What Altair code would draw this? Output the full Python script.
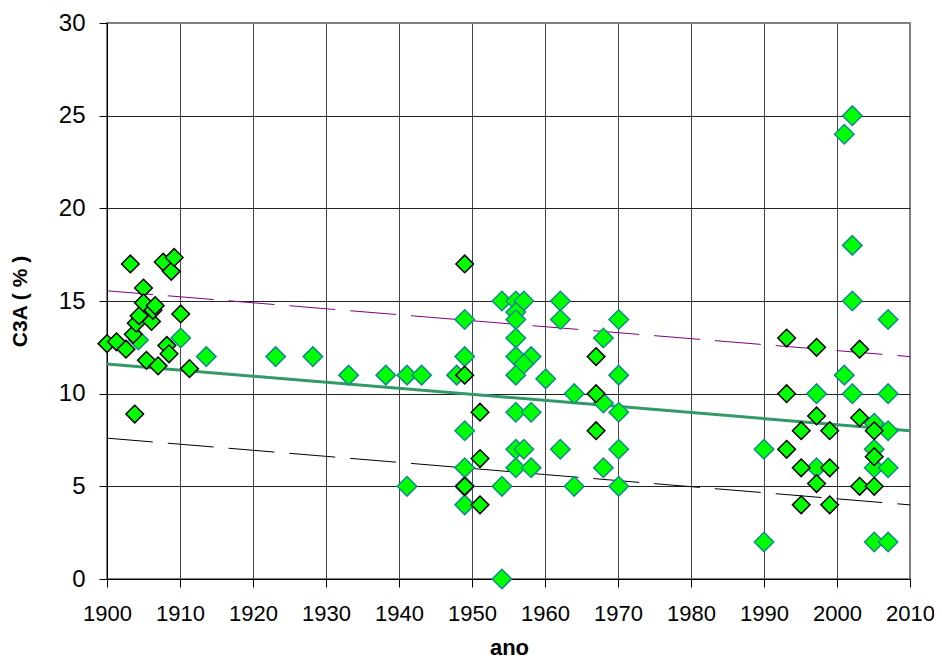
import altair as alt
import pandas as pd

# Series 1: green diamonds with teal outline
teal_year = [1904.3, 1910.1, 1913.6, 1923.1, 1928.2, 1933.1, 1938.2, 1941.1, 1941.1, 1943.1,
             1947.9, 1949.0, 1949.0, 1949.0, 1949.0, 1949.0, 1949.0,
             1954.1, 1956.0, 1957.1, 1956.0, 1956.0, 1956.0, 1956.0, 1958.1, 1957.1, 1956.0,
             1960.1, 1956.0, 1958.1, 1956.0, 1957.1, 1956.0, 1958.1, 1954.1, 1954.1,
             1962.1, 1962.1, 1962.1, 1964.0, 1964.0, 1968.0, 1968.0, 1968.0,
             1970.1, 1970.1, 1970.1, 1970.1, 1970.1,
             1990.0, 1990.0, 1997.2, 1997.2, 2001.0, 2002.1, 2002.1, 2002.1, 2001.0, 2002.1,
             2005.1, 2005.1, 2005.1, 2005.1, 2007.0, 2007.0, 2007.0, 2007.0, 2007.0]
teal_c3a = [12.9, 13.0, 12.0, 12.0, 12.0, 11.0, 11.0, 11.0, 5.0, 11.0,
            11.0, 14.0, 12.0, 8.0, 6.0, 5.0, 4.0,
            15.0, 15.0, 15.0, 14.4, 14.0, 13.0, 12.0, 12.0, 11.6, 11.0,
            10.8, 9.0, 9.0, 7.0, 7.0, 6.0, 6.0, 5.0, 0.0,
            15.0, 14.0, 7.0, 10.0, 5.0, 13.0, 9.5, 6.0,
            14.0, 11.0, 9.0, 7.0, 5.0,
            7.0, 2.0, 10.0, 6.0, 24.0, 25.0, 18.0, 15.0, 11.0, 10.0,
            8.4, 7.0, 6.0, 2.0, 14.0, 10.0, 8.0, 6.0, 2.0]

# Series 2: green diamonds with black outline
black_year = [1900.0, 1901.3, 1902.6, 1903.2, 1903.6, 1903.8, 1904.0, 1904.4, 1905.0, 1905.0,
              1905.4, 1906.1, 1906.3, 1906.6, 1907.0, 1907.7, 1908.2, 1908.5, 1908.8, 1909.2,
              1910.1, 1911.3,
              1949.0, 1949.0, 1951.1, 1951.1, 1949.0, 1951.1, 1967.0, 1967.0, 1967.0,
              1993.1, 1997.2, 2003.1, 1993.1, 1997.2, 2003.1, 1995.1, 1999.0, 2005.1,
              1993.1, 2005.1, 1995.1, 1999.0, 1997.2, 2003.1, 2005.1, 1995.1, 1999.0]
black_c3a = [12.7, 12.8, 12.4, 17.0, 13.2, 8.9, 13.8, 14.2, 15.7, 14.9,
             11.8, 13.9, 14.5, 14.75, 11.5, 17.1, 12.6, 12.15, 16.6, 17.35,
             14.3, 11.35,
             17.0, 11.0, 9.0, 6.5, 5.0, 4.0, 12.0, 10.0, 8.0,
             13.0, 12.5, 12.4, 10.0, 8.8, 8.7, 8.0, 8.0, 8.0,
             7.0, 6.6, 6.0, 6.0, 5.15, 5.0, 5.0, 4.0, 4.0]

# Trend line and bounds (end points)
trend_year = [1900, 2010]
trend_mean = [11.6, 8.0]
trend_upper = [15.55, 12.0]
trend_lower = [7.6, 4.0]

x_ticks = list(range(1900, 2011, 10))
y_ticks = [0, 5, 10, 15, 20, 25, 30]

df_teal = pd.DataFrame({"ano": teal_year, "c3a": teal_c3a})
df_black = pd.DataFrame({"ano": black_year, "c3a": black_c3a})
df_mean = pd.DataFrame({"ano": trend_year, "c3a": trend_mean})
df_up = pd.DataFrame({"ano": trend_year, "c3a": trend_upper})
df_lo = pd.DataFrame({"ano": trend_year, "c3a": trend_lower})

FONT = "Liberation Sans"

x_enc = alt.X(
    "ano:Q",
    scale=alt.Scale(domain=[1900, 2010], nice=False, zero=False),
    axis=alt.Axis(
        values=x_ticks, format="d", title="ano",
        labelFontSize=22, labelPadding=16, labelColor="black", labelOverlap=False,
        labelFlush=False,
        tickSize=8, tickColor="black", domainColor="black",
        gridColor={"condition": {"test": "datum.value === 2010", "value": "#808080"}, "value": "#444444"},
        titleFontSize=22, titleFontWeight="bold", titleColor="black",
        titleX=402, titleY=75, titleBaseline="alphabetic", titleAlign="center",
    ),
)
y_enc = alt.Y(
    "c3a:Q",
    scale=alt.Scale(domain=[0, 30], nice=False),
    axis=alt.Axis(
        values=y_ticks, title="C3A ( % )",
        labelFontSize=24, labelPadding=14, labelColor="black", labelOverlap=False,
        labelFlush=False,
        tickSize=8, tickColor="black", domainColor="black",
        gridColor={"condition": {"test": "datum.value === 30", "value": "#808080"}, "value": "#222222"},
        titleFontSize=21, titleFontWeight="bold", titleColor="black",
        titleX=-87, titleY=278, titleAngle=270, titleBaseline="middle", titleAlign="center",
    ),
)

mean_line = alt.Chart(df_mean).mark_line(color="#339966", strokeWidth=3).encode(x=x_enc, y=y_enc)
up_line = alt.Chart(df_up).mark_line(color="#800080", strokeWidth=1, strokeDash=[46, 15]).encode(x=x_enc, y=y_enc)
lo_line = alt.Chart(df_lo).mark_line(color="#000000", strokeWidth=1, strokeDash=[46, 15]).encode(x=x_enc, y=y_enc)

teal_pts = alt.Chart(df_teal).mark_point(
    shape="diamond", filled=True, fill="#00FF00", stroke="#138a8a", strokeWidth=1.5,
    size=380, opacity=1,
).encode(x=x_enc, y=y_enc)

black_pts = alt.Chart(df_black).mark_point(
    shape="diamond", filled=True, fill="#00FF00", stroke="#000000", strokeWidth=1.5,
    size=310, opacity=1,
).encode(x=x_enc, y=y_enc)

chart = alt.layer(mean_line, up_line, lo_line, teal_pts, black_pts).properties(
    width=803, height=556,
    autosize=alt.AutoSizeParams(type="none"),
    padding={"left": 99, "top": 15, "right": 24, "bottom": 79},
).configure(font=FONT).configure_axis(
    labelFont=FONT, titleFont=FONT, gridWidth=1,
).configure_view(stroke="#808080", strokeWidth=2)

chart.save("out.html", embed_options={"renderer": "svg", "actions": False})
